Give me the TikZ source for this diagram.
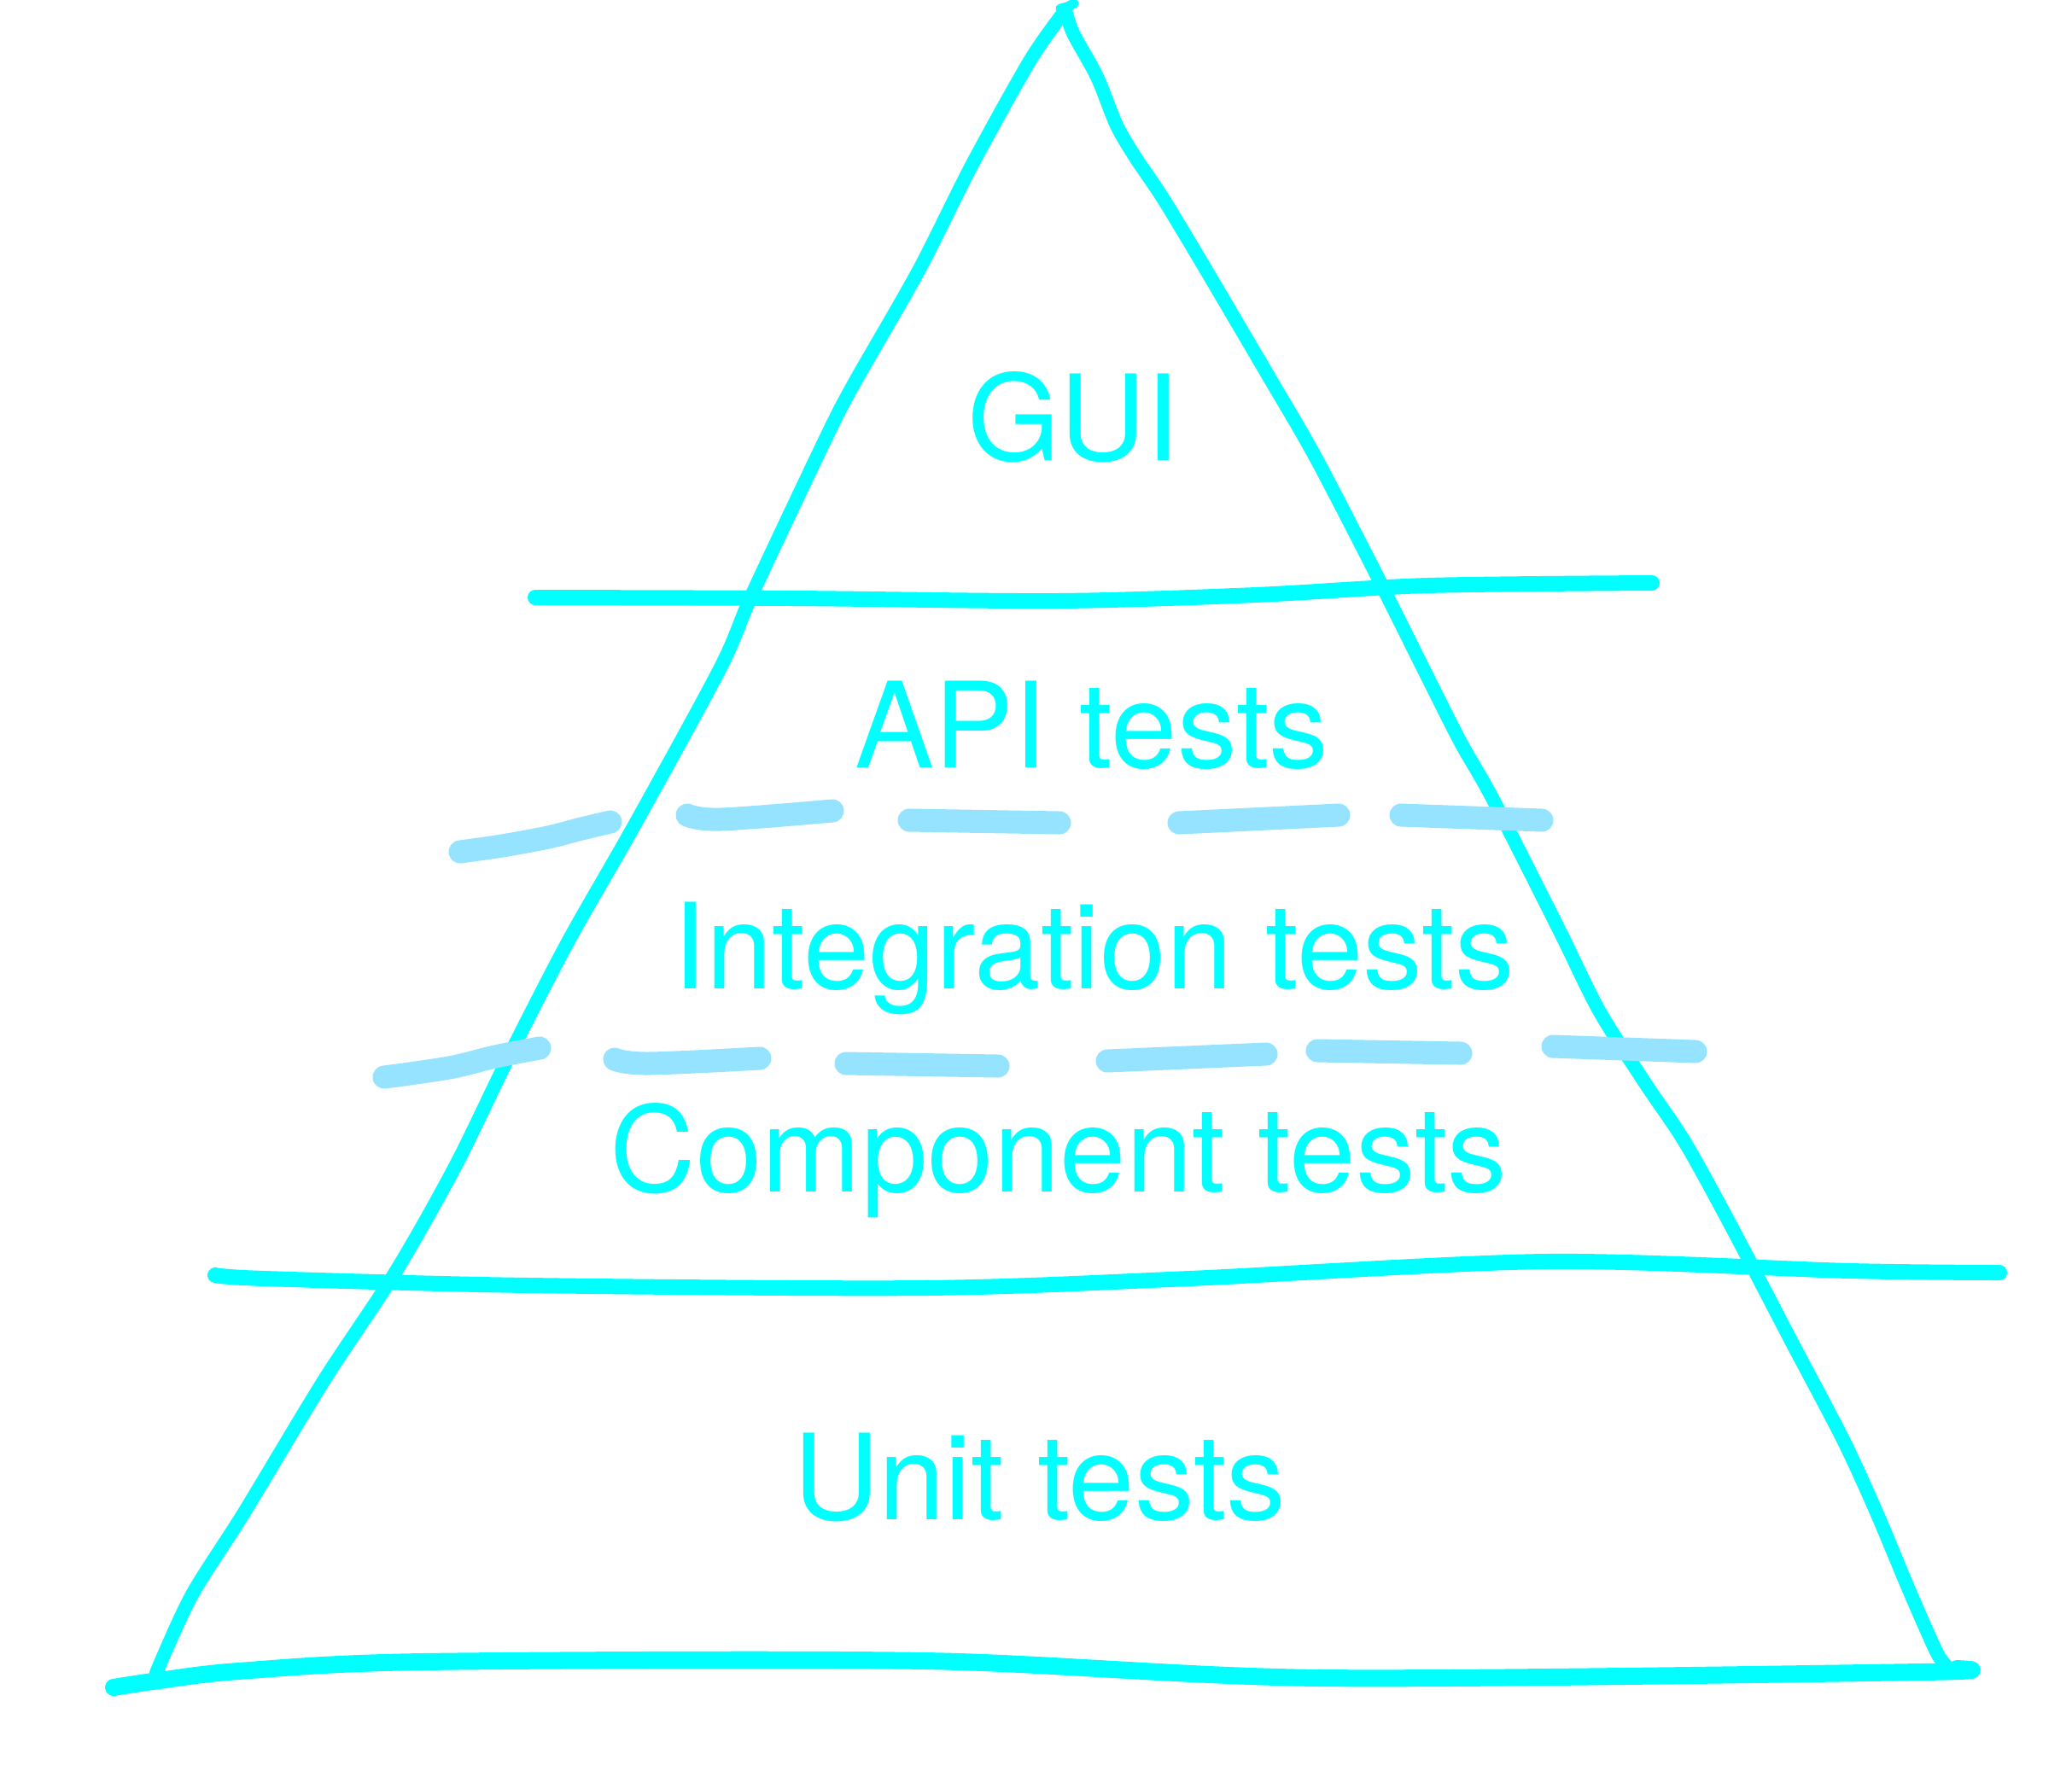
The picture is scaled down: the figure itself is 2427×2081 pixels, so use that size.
\documentclass[tikz,border=0pt]{standalone}
\usepackage{fontspec}
\setmainfont{TeX Gyre Heros}
\definecolor{lineC}{HTML}{00FFFF}
\definecolor{dashC}{HTML}{96E3FF}
\begin{document}
\begin{tikzpicture}[x=0.01cm,y=-0.01cm,
  pen/.style={draw=lineC,line width=0.18cm,line cap=round,line join=round},
  side/.style={draw=lineC,line width=0.16cm,line cap=round,line join=round},
  dashpen/.style={draw=dashC,line width=0.27cm,line cap=round,line join=round},
  lbl/.style={text=lineC,anchor=base,inner sep=0pt,font=\fontsize{39.6}{44}\selectfont}]
\useasboundingbox (0,0) rectangle (2427,2081);
% pyramid sides
\draw[side] plot[smooth,tension=0.5] coordinates {(1248,12) (1207,70) (1138,194) (1076,317) (1000,450) (967,514) (882,694) (844,782) (743,967) (666,1102) (596,1238) (534,1365) (464,1489) (379,1618) (286,1772) (224,1870) (183,1960)};
\draw[side] plot[smooth,tension=0.5] coordinates {(1248,12) (1257,39) (1285,90) (1308,147) (1331,186) (1362,232) (1409,310) (1486,441) (1540,534) (1610,669) (1672,793) (1711,870) (1749,937) (1827,1091) (1873,1184) (1927,1269) (1974,1339) (2028,1437) (2098,1571) (2159,1687) (2198,1772) (2237,1865) (2268,1935) (2280,1952)};
% apex tick
\draw[side,line width=0.11cm] (1242,10) -- (1250,8) -- (1258,4);
% top separator
\draw[pen] plot[smooth,tension=0.5] coordinates {(627,700) (929,701) (1238,704) (1471,697) (1672,686) (1935,683)};
% dashed row 1
\draw[dashpen] plot[smooth,tension=0.6] coordinates {(539,998) (588,991) (642,981) (681,971) (715,963)};
\draw[dashpen] plot[smooth,tension=0.6] coordinates {(805,955) (844,960) (975,950)};
\draw[dashpen] (1065,961) -- (1241,964);
\draw[dashpen] (1381,964) -- (1568,955);
\draw[dashpen] (1641,955) -- (1806,961);
% dashed row 2
\draw[dashpen] plot[smooth,tension=0.6] coordinates {(450,1262) (526,1251) (580,1238) (632,1228)};
\draw[dashpen] plot[smooth,tension=0.6] coordinates {(720,1241) (759,1246) (890,1240)};
\draw[dashpen] (991,1246) -- (1169,1249);
\draw[dashpen] (1297,1243) -- (1483,1235);
\draw[dashpen] (1543,1231) -- (1711,1234);
\draw[dashpen] (1819,1226) -- (1986,1232);
% third separator
\draw[pen] plot[smooth,tension=0.5] coordinates {(252,1494) (310,1498) (619,1506) (1084,1509) (1393,1498) (1811,1478) (2167,1489) (2342,1491)};
% bottom line
\draw[pen,line width=0.2cm] plot[smooth,tension=0.5] coordinates {(133,1977) (186,1969) (279,1958) (495,1947) (1084,1946) (1548,1966) (2250,1959) (2292,1955)};
% labels
\node[lbl] (gui) at (1257,539) {GUI};
\node[lbl] (api) at (1279,899) {API tests};
\node[lbl] (integ) at (1281,1158) {Integration tests};
\node[lbl] (comp) at (1240,1396) {Component tests};
\node[lbl] (unit) at (1218,1780) {Unit tests};
\end{tikzpicture}
\end{document}
